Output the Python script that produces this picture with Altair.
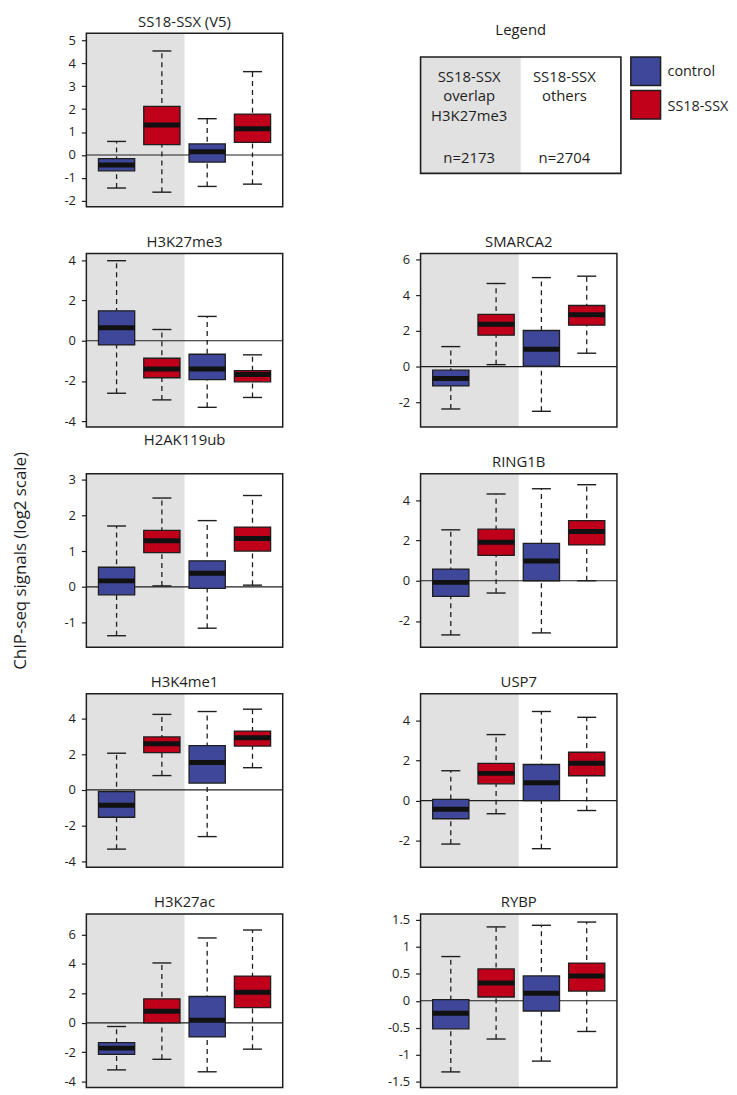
import altair as alt
import pandas as pd

# ---------------- data ----------------
panels = ["SS18-SSX (V5)", "H3K27me3", "SMARCA2", "H2AK119ub", "RING1B",
          "H3K4me1", "USP7", "H3K27ac", "RYBP"]
conditions = ["control", "SS18-SSX", "control", "SS18-SSX"]
regions = ["overlap", "overlap", "others", "others"]
positions = [1, 2, 3, 4]

whisker_high = [
    [0.59, 4.53, 1.58, 3.63],
    [3.98, 0.56, 1.21, -0.70],
    [1.12, 4.65, 4.98, 5.06],
    [1.70, 2.48, 1.85, 2.55],
    [2.53, 4.31, 4.57, 4.77],
    [2.05, 4.22, 4.38, 4.51],
    [1.49, 3.29, 4.44, 4.15],
    [-0.25, 4.07, 5.77, 6.31],
    [0.82, 1.37, 1.40, 1.46],
]
upper_quartile = [
    [-0.16, 2.12, 0.48, 1.78],
    [1.49, -0.87, -0.67, -1.49],
    [-0.20, 2.92, 2.02, 3.42],
    [0.55, 1.58, 0.73, 1.67],
    [0.58, 2.56, 1.86, 2.99],
    [-0.09, 2.96, 2.48, 3.29],
    [0.06, 1.86, 1.80, 2.41],
    [-1.34, 1.63, 1.79, 3.18],
    [0.02, 0.59, 0.46, 0.70],
]
medians = [
    [-0.44, 1.31, 0.14, 1.14],
    [0.65, -1.40, -1.40, -1.68],
    [-0.66, 2.37, 0.97, 2.90],
    [0.17, 1.29, 0.38, 1.35],
    [-0.08, 1.91, 0.98, 2.45],
    [-0.86, 2.58, 1.53, 2.92],
    [-0.43, 1.36, 0.89, 1.86],
    [-1.72, 0.78, 0.18, 2.08],
    [-0.23, 0.33, 0.14, 0.46],
]
lower_quartile = [
    [-0.69, 0.45, -0.31, 0.55],
    [-0.21, -1.84, -1.93, -2.04],
    [-1.08, 1.76, 0.02, 2.32],
    [-0.22, 0.96, -0.04, 1.00],
    [-0.78, 1.26, 0.00, 1.78],
    [-1.53, 2.08, 0.38, 2.45],
    [-0.90, 0.84, 0.00, 1.24],
    [-2.15, 0.00, -0.96, 1.03],
    [-0.52, 0.07, -0.19, 0.18],
]
whisker_low = [
    [-1.44, -1.62, -1.37, -1.27],
    [-2.61, -2.94, -3.31, -2.82],
    [-2.37, 0.11, -2.50, 0.75],
    [-1.36, 0.03, -1.15, 0.05],
    [-2.69, -0.61, -2.59, 0.00],
    [-3.31, 0.80, -2.61, 1.24],
    [-2.16, -0.65, -2.39, -0.49],
    [-3.20, -2.48, -3.33, -1.79],
    [-1.32, -0.71, -1.12, -0.57],
]
y_domains = [
    [-2.26, 5.30], [-4.29, 4.34], [-3.38, 6.33], [-1.68, 3.16], [-3.30, 5.32],
    [-4.33, 5.37], [-3.32, 5.32], [-4.40, 7.40], [-1.61, 1.61],
]
y_ticks = [
    [-2, -1, 0, 1, 2, 3, 4, 5],
    [-4, -2, 0, 2, 4],
    [-2, 0, 2, 4, 6],
    [-1, 0, 1, 2, 3],
    [-2, 0, 2, 4],
    [-4, -2, 0, 2, 4],
    [-2, 0, 2, 4],
    [-4, -2, 0, 2, 4, 6],
    [-1.5, -1, -0.5, 0, 0.5, 1, 1.5],
]
x_limits = [0.333, 4.667]
overlap_limits = [0.333, 2.5]

legend_title = "Legend"
legend_col_left = ["SS18-SSX", "overlap", "H3K27me3", "n=2173"]
legend_col_right = ["SS18-SSX", "others", "n=2704"]
legend_keys = ["control", "SS18-SSX"]
AXIS_TITLE = "ChIP-seq signals (log2 scale)"

# ---------------- style ----------------
FONT = "Open Sans"
BLUE = "#3E4799"
RED = "#C0001A"
GRAY = "#E1E1E1"
INK = "#1E1E1E"
PANEL_W = 198
PANEL_H = 175
color_scale = alt.Scale(domain=["control", "SS18-SSX"], range=[BLUE, RED])

LABEL_EXPR = ("datum.value < 0 ? '-' + format(-datum.value, '~g') "
              ": format(datum.value, '~g')")


def make_panel(i):
    lo, hi = y_domains[i]
    df = pd.DataFrame({
        "pos": positions,
        "condition": conditions,
        "region": regions,
        "wlo": whisker_low[i],
        "q1": lower_quartile[i],
        "med": medians[i],
        "q3": upper_quartile[i],
        "whi": whisker_high[i],
    })
    frame_df = pd.DataFrame({"x0": [x_limits[0]], "x1": [x_limits[1]],
                             "y0": [lo], "y1": [hi], "zero": [0.0]})
    band_df = pd.DataFrame({"x0": [overlap_limits[0]], "x1": [overlap_limits[1]],
                            "y0": [lo], "y1": [hi]})
    xs = alt.Scale(domain=x_limits, nice=False, zero=False)
    ys = alt.Scale(domain=[lo, hi], nice=False, zero=False)
    axis_kw = dict(values=y_ticks[i], tickSize=5, tickWidth=1.2, tickColor=INK,
                   labelPadding=6, labelFontSize=13, labelFont=FONT,
                   labelColor=INK, labelExpr=LABEL_EXPR, domain=False, grid=False,
                   minExtent=28, maxExtent=28)
    if panels[i] == "H2AK119ub":
        yaxis = alt.Axis(title=AXIS_TITLE, titleFont=FONT, titleFontSize=17,
                         titleFontWeight="normal", titleColor=INK,
                         titlePadding=29, **axis_kw)
    else:
        yaxis = alt.Axis(title=None, **axis_kw)

    def X(f):
        return alt.X(f, type="quantitative", scale=xs, axis=None)

    def Y(f):
        return alt.Y(f, type="quantitative", scale=ys, axis=yaxis)

    base = alt.Chart(df).transform_calculate(
        box_l="datum.pos - 0.4", box_r="datum.pos + 0.4",
        cap_l="datum.pos - 0.21", cap_r="datum.pos + 0.21")

    band = alt.Chart(band_df).mark_rect(fill=GRAY, strokeWidth=0).encode(
        x=X("x0"), x2="x1", y=Y("y0"), y2="y1")
    zero = alt.Chart(frame_df).mark_rule(color=INK, strokeWidth=1.2).encode(y=Y("zero"))
    whisk = base.mark_rule(color=INK, strokeWidth=1.3, strokeDash=[5, 4]).encode(
        x=X("pos"), y=Y("wlo"), y2="whi")
    cap_hi = base.mark_rule(color=INK, strokeWidth=1.4).encode(
        x=X("cap_l"), x2="cap_r", y=Y("whi"))
    cap_lo = base.mark_rule(color=INK, strokeWidth=1.4).encode(
        x=X("cap_l"), x2="cap_r", y=Y("wlo"))
    box = base.mark_rect(stroke=INK, strokeWidth=1.3).encode(
        x=X("box_l"), x2="box_r", y=Y("q1"), y2="q3",
        color=alt.Color("condition:N", scale=color_scale, legend=None))
    med = base.mark_rule(color="#111111", strokeWidth=5).encode(
        x=X("box_l"), x2="box_r", y=Y("med"))
    frame = alt.Chart(frame_df).mark_rect(filled=False, stroke=INK, strokeWidth=1.5).encode(
        x=X("x0"), x2="x1", y=Y("y0"), y2="y1")

    return alt.layer(band, zero, whisk, cap_hi, cap_lo, box, med, frame).properties(
        width=PANEL_W, height=PANEL_H,
        title=alt.Title(panels[i], fontSize=15, font=FONT, fontWeight="normal",
                        color=INK, offset=3))


def make_legend():
    LW = 296
    xs = alt.Scale(domain=[0, LW], nice=False, zero=False)
    ys = alt.Scale(domain=[0, 176], nice=False, zero=False, reverse=True)

    def X(f):
        return alt.X(f, type="quantitative", scale=xs, axis=None)

    def Y(f):
        return alt.Y(f, type="quantitative", scale=ys, axis=None)

    box_df = pd.DataFrame({"x0": [0], "x1": [202], "y0": [24], "y1": [142],
                           "gx1": [101]})
    gray = alt.Chart(box_df).mark_rect(fill=GRAY, strokeWidth=0).encode(
        x=X("x0"), x2="gx1", y=Y("y0"), y2="y1")
    outline = alt.Chart(box_df).mark_rect(filled=False, stroke=INK, strokeWidth=1.6).encode(
        x=X("x0"), x2="x1", y=Y("y0"), y2="y1")

    centered = pd.DataFrame({
        "text": [legend_title] + legend_col_left + legend_col_right,
        "x": [101, 49, 49, 49, 49, 145, 145, 145],
        "y": [2, 49, 69, 89, 132, 49, 69, 132],
    })
    ctext = alt.Chart(centered).mark_text(
        font=FONT, fontSize=15, color=INK, align="center", baseline="alphabetic"
    ).encode(x=X("x"), y=Y("y"), text="text:N")

    sw = pd.DataFrame({"condition": legend_keys, "x0": [212, 212], "x1": [242, 242],
                       "y0": [24, 58], "y1": [53, 87], "tx": [249, 249], "ty": [43, 79]})
    swatch = alt.Chart(sw).mark_rect(stroke=INK, strokeWidth=1.5).encode(
        x=X("x0"), x2="x1", y=Y("y0"), y2="y1",
        color=alt.Color("condition:N", scale=color_scale, legend=None))
    ltext = alt.Chart(sw).mark_text(
        font=FONT, fontSize=14.5, color=INK, align="left", baseline="alphabetic"
    ).encode(x=X("tx"), y=Y("ty"), text="condition:N")

    return alt.layer(gray, outline, ctext, swatch, ltext).properties(
        width=LW, height=PANEL_H)


charts = [make_panel(0), make_legend()] + [make_panel(i) for i in range(1, len(panels))]

chart = alt.concat(
    *charts, columns=2, spacing={"row": 47, "column": 139}, bounds="flush"
).properties(
    padding={"left": 4, "top": 2, "right": 0, "bottom": 0}
).configure_view(stroke=None)

chart.save("out.html", embed_options={"renderer": "svg", "actions": False})
